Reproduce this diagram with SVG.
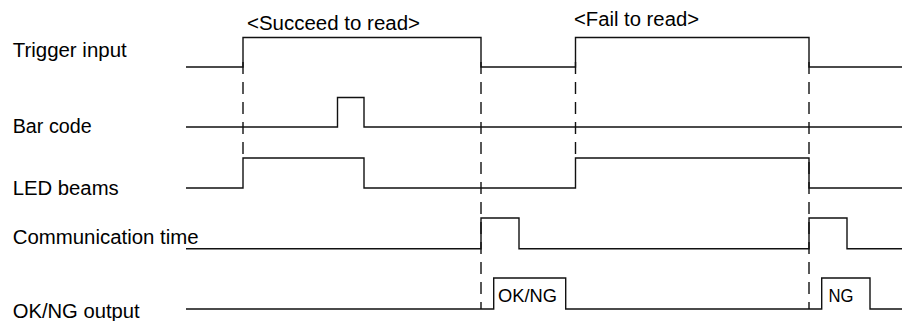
<svg xmlns="http://www.w3.org/2000/svg" width="902" height="321" viewBox="0 0 902 321">
<style>
.lbl{font-family:"Liberation Sans",Arial,sans-serif;font-size:20px;fill:#000}
.sm{font-family:"Liberation Sans",Arial,sans-serif;font-size:18px;fill:#000}
.sig{fill:none;stroke:#111;stroke-width:1.4}
.dash{fill:none;stroke:#111;stroke-width:1.4;stroke-dasharray:12 8;stroke-dashoffset:0}
</style>
<rect width="902" height="321" fill="#fff"/>
<g id="titles">
<text class="lbl" x="247" y="29.5" textLength="173" lengthAdjust="spacingAndGlyphs">&lt;Succeed to read&gt;</text>
<text class="lbl" x="574" y="26" textLength="125" lengthAdjust="spacingAndGlyphs">&lt;Fail to read&gt;</text>
</g>
<g id="connectors">
<line class="dash" x1="243" y1="62" x2="243" y2="158"/>
<line class="dash" x1="575.5" y1="62" x2="575.5" y2="158"/>
<line class="dash" x1="481" y1="62" x2="481" y2="309"/>
<line class="dash" x1="809" y1="62" x2="809" y2="309"/>
</g>
<g id="trigger-input">
<text class="lbl" x="12.7" y="57" textLength="114" lengthAdjust="spacingAndGlyphs">Trigger input</text>
<polyline class="sig" points="186,67 243,67 243,37.5 481,37.5 481,67 575.5,67 575.5,37.5 809,37.5 809,67 902,67"/>
</g>
<g id="bar-code">
<text class="lbl" x="12.7" y="132.5" textLength="79" lengthAdjust="spacingAndGlyphs">Bar code</text>
<polyline class="sig" points="186,127 337.5,127 337.5,97.5 364,97.5 364,127 902,127"/>
</g>
<g id="led-beams">
<text class="lbl" x="12.7" y="195" textLength="106" lengthAdjust="spacingAndGlyphs">LED beams</text>
<polyline class="sig" points="186,188 243,188 243,158 364,158 364,188 575.5,188 575.5,158 809,158 809,188 902,188"/>
</g>
<g id="communication-time">
<text class="lbl" x="12.7" y="244" textLength="186" lengthAdjust="spacingAndGlyphs">Communication time</text>
<polyline class="sig" points="186,248.7 481,248.7 481,218 519,218 519,248.7 809,248.7 809,218 847,218 847,248.7 902,248.7"/>
</g>
<g id="ok-ng-output">
<text class="lbl" x="12.7" y="318" textLength="127" lengthAdjust="spacingAndGlyphs">OK/NG output</text>
<polyline class="sig" points="186,309 493.7,309 493.7,278 565.7,278 565.7,309 821.7,309 821.7,278 870,278 870,309 902,309"/>
<text class="sm" x="498" y="302" textLength="59" lengthAdjust="spacingAndGlyphs">OK/NG</text>
<text class="sm" x="828.5" y="302" textLength="25" lengthAdjust="spacingAndGlyphs">NG</text>
</g>
</svg>
